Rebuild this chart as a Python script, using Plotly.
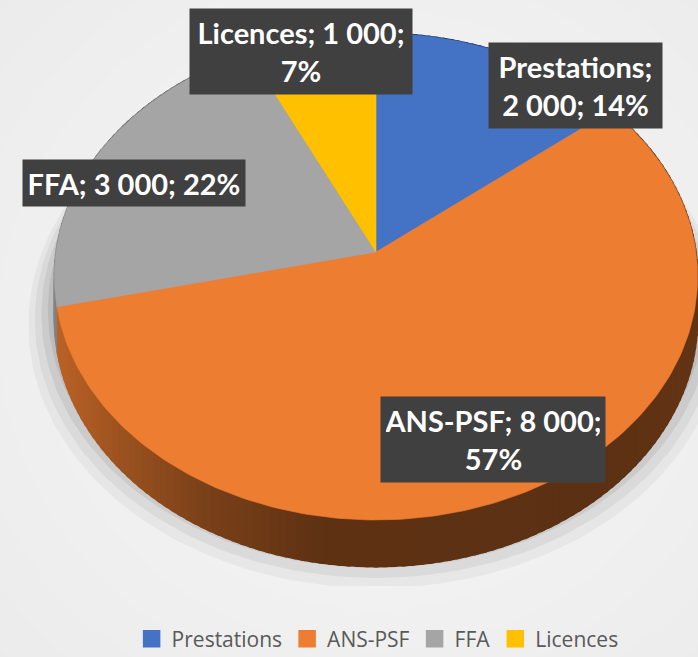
import numpy as np
import plotly.graph_objects as go

# ---- data ----
categories = ["Prestations", "ANS-PSF", "FFA", "Licences"]
values = [2000, 8000, 3000, 1000]
value_labels = ["2 000", "8 000", "3 000", "1 000"]
percent_labels = ["14%", "57%", "22%", "7%"]

# ---- style ----
colors = ["#4472C4", "#ED7D31", "#A5A5A5", "#FFC000"]
W, H = 698, 657
CX, CY = 376, 252          # pie apex (pixels)
A, B, K = 320, 241, 0.1006  # horizontal radius, vertical radius, perspective
DEPTH = 42
LABEL_FONT = "Lato, Noto Sans, sans-serif"
LEGEND_FONT = "Open Sans, Noto Sans, sans-serif"

# label boxes: (center x, center y, width, height, line-break position)
label_boxes = {
    "Prestations": (575, 85.5, 163, 75, "name"),
    "ANS-PSF": (493, 439.5, 214, 75, "value"),
    "FFA": (134, 183, 212, 36, None),
    "Licences": (301, 51, 212, 75, "value"),
}


def proj(t, r=1.0):
    u = r * np.sin(t)
    v = -r * np.cos(t)
    s = 1 - K * v
    return CX + A * u / s, CY + B * v / s, s


def hex_rgb(h):
    h = h.lstrip("#")
    return [int(h[i:i + 2], 16) for i in (0, 2, 4)]


def shade(hexc, f):
    r, g, b = hex_rgb(hexc)
    return "rgb(%d,%d,%d)" % (r * f, g * f, b * f)


def shade_factor(x):
    return float(np.interp(x, [40, 120, 200, 320, 600, 700], [0.82, 0.66, 0.52, 0.40, 0.39, 0.42]))


total = float(sum(values))
fr = np.concatenate([[0.0], np.cumsum(values) / total])
angles = 2 * np.pi * fr

fig = go.Figure()

# background radial lightening
shapes = []
for rr in np.linspace(520, 160, 10):
    shapes.append(dict(type="circle", xref="x", yref="y", layer="below",
                       x0=CX - rr * 1.05, x1=CX + rr * 1.05, y0=330 - rr, y1=330 + rr,
                       fillcolor="white", opacity=0.09, line=dict(width=0)))

# soft shadow under the pie (clipped at the floor line)
tt = np.linspace(0, 2 * np.pi, 240)
for rr, off, op in [(1.08, 44, 0.06), (1.06, 40, 0.08), (1.04, 36, 0.10), (1.02, 32, 0.12), (1.0, 28, 0.14)]:
    x, y, s = proj(tt, rr)
    y = np.minimum(y + off, 586)
    fig.add_trace(go.Scatter(x=x, y=y, fill="toself", mode="lines", line=dict(width=0),
                             fillcolor="rgba(80,80,80,%.2f)" % op, hoverinfo="skip", showlegend=False))

# side walls (segmented for shading)
for i, c in enumerate(colors):
    t0, t1 = angles[i], angles[i + 1]
    n = max(2, int(np.ceil((t1 - t0) / np.radians(1.5))))
    edges = np.linspace(t0, t1, n + 1)
    for j in range(n):
        ts = np.linspace(edges[j], min(edges[j + 1] + np.radians(0.6), t1), 4)
        x, y, s = proj(ts)
        yb = y + DEPTH / s
        px = np.concatenate([x, x[::-1]])
        py = np.concatenate([y, yb[::-1]])
        col = shade(c, shade_factor(float(np.mean(x))))
        fig.add_trace(go.Scatter(x=px, y=py, fill="toself", mode="lines",
                                 line=dict(width=1.5, color=col), fillcolor=col,
                                 hoverinfo="skip", showlegend=False))

# top faces
for i, c in enumerate(colors):
    ts = np.linspace(angles[i], angles[i + 1], 200)
    x, y, s = proj(ts)
    px = np.concatenate([[CX], x, [CX]])
    py = np.concatenate([[CY], y, [CY]])
    fig.add_trace(go.Scatter(x=px, y=py, fill="toself", mode="lines",
                             line=dict(width=0.6, color=c), fillcolor=c,
                             name=categories[i], hoverinfo="name", showlegend=False))

# legend entries
for i, c in enumerate(colors):
    fig.add_trace(go.Scatter(x=[None], y=[None], mode="markers", name=categories[i],
                             marker=dict(symbol="square", size=16, color=c,
                                         line=dict(width=1.5, color=c))))

# data labels
annotations = []
for i, cat in enumerate(categories):
    bx, by, bw, bh, brk = label_boxes[cat]
    if brk == "name":
        txt = f"{cat};<br>{value_labels[i]}; {percent_labels[i]}"
    elif brk == "value":
        txt = f"{cat}; {value_labels[i]};<br>{percent_labels[i]}"
    else:
        txt = f"{cat}; {value_labels[i]}; {percent_labels[i]}"
    annotations.append(dict(x=bx, y=by, xref="x", yref="y", text=txt, showarrow=False,
                            font=dict(family=LABEL_FONT, size=29, color="white", weight=700),
                            bgcolor="#404040", borderpad=5, width=bw, height=bh,
                            align="center", valign="middle"))

fig.update_layout(
    width=W, height=H,
    margin=dict(l=0, r=0, t=0, b=0, autoexpand=False),
    paper_bgcolor="#e9e9e9",
    plot_bgcolor="rgba(0,0,0,0)",
    xaxis=dict(range=[0, W], visible=False, fixedrange=True),
    yaxis=dict(range=[H, 0], visible=False, fixedrange=True),
    shapes=shapes,
    annotations=annotations,
    showlegend=True,
    legend=dict(orientation="h", x=0.541, xanchor="center", y=-0.004, yanchor="bottom",
                bgcolor="rgba(0,0,0,0)", font=dict(family=LEGEND_FONT, size=21, color="#595959"),
                itemclick=False, itemdoubleclick=False),
)

fig.write_html("out.html", config={"displayModeBar": False},
               post_script="document.body.style.margin='0';document.body.style.overflow='hidden';")
